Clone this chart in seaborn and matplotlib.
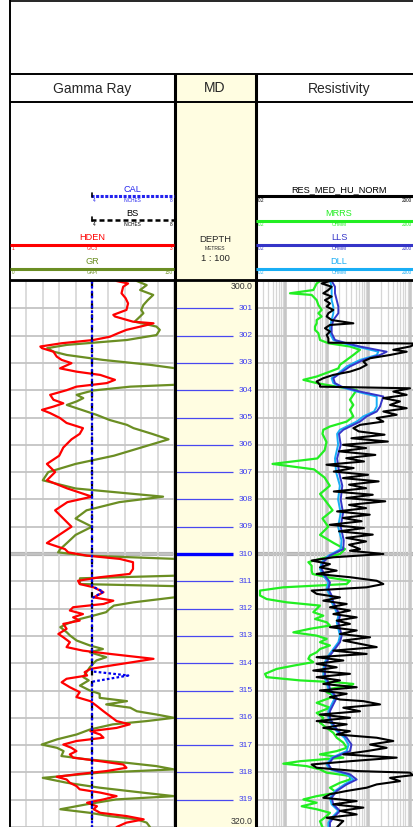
import matplotlib
matplotlib.use("Agg")
import matplotlib.pyplot as plt
from matplotlib.patches import Rectangle
from matplotlib.ticker import MultipleLocator, LogLocator, NullFormatter
import pandas as pd
import seaborn as sns

sns.set_theme(style="white")
plt.rcParams["font.family"] = ["Liberation Sans", "DejaVu Sans"]

# ---------------- log curves: (measured depth m, value) ----------------
gr_log = [
    (300.00, 116), (300.15, 125), (300.33, 119), (300.51, 131), (300.70, 126), (300.88, 122),
    (301.06, 120), (301.18, 122), (301.30, 119), (301.49, 114), (301.67, 134), (301.79, 137),
    (301.98, 134), (302.16, 107), (302.34, 52), (302.46, 34), (302.59, 40), (302.71, 52),
    (302.89, 85), (303.07, 128), (303.20, 152), (303.50, 165), (303.80, 152), (303.87, 110),
    (304.01, 76), (304.17, 61), (304.29, 67), (304.41, 61), (304.54, 52), (304.66, 61),
    (304.78, 70), (304.90, 79), (305.09, 91), (305.27, 107), (305.39, 113),
    (305.60, 130), (305.80, 145), (306.10, 120), (306.40, 95), (306.70, 60), (307.00, 35),
    (307.30, 30), (307.60, 60), (307.90, 140), (308.10, 100), (308.40, 70), (308.70, 60),
    (309.00, 75), (309.30, 60), (309.60, 52),
    (309.82, 46), (309.94, 44), (310.06, 70), (310.18, 152), (310.55, 160), (310.79, 155),
    (310.89, 64), (311.10, 64), (311.18, 155), (311.40, 160), (311.59, 150), (311.77, 113),
    (311.89, 95), (312.01, 91), (312.13, 88), (312.26, 76), (312.38, 64), (312.56, 52),
    (312.68, 46), (312.87, 52), (312.99, 55), (313.17, 61), (313.35, 73), (313.48, 85),
    (313.60, 73), (313.78, 88), (313.90, 79), (314.02, 76), (314.15, 73), (314.33, 70),
    (314.51, 67), (314.63, 72), (314.82, 64), (315.00, 73), (315.12, 82), (315.27, 82),
    (315.39, 107), (315.51, 88), (315.63, 110), (315.76, 116), (315.88, 134), (316.00, 150),
    (316.12, 125), (316.24, 94), (316.43, 73), (316.61, 61), (316.79, 43), (316.98, 29),
    (317.10, 43), (317.22, 49), (317.40, 47), (317.52, 70), (317.65, 107), (317.77, 134),
    (317.89, 150), (318.01, 82), (318.20, 30), (318.38, 52), (318.56, 82), (318.74, 121),
    (318.87, 150), (318.99, 97), (319.17, 70), (319.35, 46), (319.48, 73), (319.60, 91),
    (319.72, 116), (319.84, 125), (320.00, 128),
]

hden_log = [
    (300.00, 2.30), (300.09, 2.44), (300.21, 2.38), (300.45, 2.36), (300.63, 2.41), (300.82, 2.44),
    (301.06, 2.42), (301.24, 2.26), (301.30, 2.28), (301.49, 2.50), (301.55, 2.75), (301.67, 2.59),
    (301.79, 2.42), (301.91, 2.32), (302.04, 2.22), (302.16, 2.02), (302.28, 1.63), (302.40, 1.37),
    (302.46, 1.39), (302.59, 1.53), (302.77, 1.57), (302.89, 1.63), (303.01, 1.75), (303.20, 1.61),
    (303.32, 1.81), (303.44, 2.10), (303.62, 2.28), (303.74, 2.18), (303.87, 1.81), (304.00, 1.69),
    (304.17, 1.49), (304.35, 1.53), (304.48, 1.65), (304.60, 1.53), (304.72, 1.39), (304.84, 1.49),
    (305.02, 1.61), (305.20, 1.69), (305.39, 1.89),
    (305.60, 1.85), (305.80, 1.75), (306.10, 1.65), (306.40, 1.60), (306.70, 1.45), (307.00, 1.55),
    (307.30, 1.45), (307.60, 1.70), (307.90, 2.00), (308.10, 1.70), (308.40, 1.55), (308.70, 1.65),
    (309.00, 1.75), (309.30, 1.60), (309.60, 1.45),
    (309.82, 1.67), (309.94, 1.71), (310.06, 1.94), (310.18, 2.34), (310.30, 2.50), (310.55, 2.50),
    (310.73, 2.46), (310.85, 2.10), (310.98, 1.83), (311.10, 1.85), (311.22, 2.02), (311.40, 2.14),
    (311.59, 2.02), (311.71, 2.26), (311.83, 2.14), (311.95, 1.77), (312.07, 1.73), (312.20, 1.89),
    (312.32, 1.77), (312.44, 1.85), (312.56, 1.65), (312.74, 1.69), (312.93, 1.59), (313.05, 1.65),
    (313.23, 1.73), (313.41, 1.69), (313.54, 1.89), (313.66, 2.22), (313.84, 2.75), (313.96, 2.50),
    (314.09, 2.22), (314.21, 1.98), (314.33, 1.91), (314.45, 1.94), (314.57, 1.69), (314.70, 1.63),
    (314.88, 1.73), (315.06, 1.85), (315.24, 1.81),
    (315.39, 1.98), (315.57, 2.06), (315.76, 2.14), (315.94, 2.22), (316.12, 2.30), (316.24, 2.46),
    (316.37, 2.30), (316.49, 1.98), (316.61, 2.10), (316.73, 2.14), (316.85, 1.81), (316.98, 1.65),
    (317.10, 1.75), (317.22, 1.81), (317.34, 1.73), (317.46, 1.77), (317.59, 2.10), (317.71, 2.38),
    (317.83, 2.42), (317.95, 2.18), (318.07, 1.81), (318.16, 1.57), (318.26, 1.69), (318.38, 1.73),
    (318.50, 1.81), (318.62, 1.85), (318.74, 2.10), (318.87, 2.30), (318.99, 2.14), (319.11, 1.94),
    (319.24, 2.06), (319.35, 2.02), (319.48, 2.10), (319.60, 2.42), (319.72, 2.63), (319.84, 2.42),
    (320.00, 2.30),
]

cal_log = [
    (300.00, 4.0), (311.18, 4.0), (311.38, 4.55), (311.62, 4.0),
    (314.30, 4.0), (314.45, 5.77), (314.68, 4.0), (320.00, 4.0),
]
bs_log = [(300.00, 4.0), (320.00, 4.0)]

mrrs_log = [
    (300.00, 6.97), (300.09, 5.79), (300.21, 5.28), (300.33, 4.81), (300.45, 1.32), (300.51, 4.39),
    (300.70, 5.79), (300.88, 6.36), (301.06, 7.64), (301.18, 6.36), (301.30, 7.64), (301.43, 5.79),
    (301.55, 5.79), (301.67, 5.28), (301.79, 5.28), (301.91, 6.36), (302.16, 6.97), (302.28, 11.1),
    (302.40, 36.8), (302.52, 64.1), (302.71, 44.3), (302.89, 30.6), (303.07, 21.1), (303.20, 19.3),
    (303.32, 12.1), (303.50, 5.79), (303.62, 2.77), (303.74, 5.79), (303.87, 17.6), (303.99, 53.3),
    (304.17, 44.3), (304.35, 36.8), (304.54, 44.3), (304.72, 36.8), (304.96, 44.3), (305.15, 30.6),
    (305.33, 12.1), (305.45, 8.38),
    (305.60, 8.0), (305.90, 10.0), (306.20, 9.0), (306.50, 6.0), (306.70, 0.5), (306.90, 5.0),
    (307.20, 9.0), (307.50, 12.0), (307.80, 7.0), (308.10, 10.0), (308.40, 14.0), (308.70, 8.0),
    (309.00, 11.0), (309.30, 7.0), (309.60, 15.0),
    (309.82, 27.9), (310.00, 21.1), (310.18, 6.97), (310.30, 3.65), (310.43, 4.39), (310.61, 4.39),
    (310.73, 4.6), (310.85, 10.1), (310.98, 36.8), (311.10, 30.6), (311.22, 0.91), (311.34, 0.25),
    (311.52, 0.25), (311.65, 0.36), (311.77, 1.10), (311.89, 6.97), (312.01, 5.79), (312.13, 4.81),
    (312.26, 8.38), (312.38, 5.28), (312.50, 10.1), (312.62, 12.1), (312.74, 4.0), (312.87, 1.59),
    (312.99, 5.79), (313.11, 10.1), (313.23, 6.97), (313.35, 12.1), (313.48, 6.97), (313.60, 5.79),
    (313.72, 4.0), (313.84, 3.65), (313.96, 4.81), (314.09, 1.59), (314.21, 0.63), (314.39, 0.33),
    (314.51, 0.36), (314.63, 2.30), (314.70, 17.6), (314.76, 44.3), (314.82, 36.8), (314.94, 12.1),
    (315.06, 10.1), (315.18, 14.6), (315.27, 12.1),
    (315.45, 5.79), (315.63, 12.1), (315.82, 5.79), (316.00, 8.38), (316.18, 6.97), (316.37, 10.1),
    (316.55, 14.6), (316.73, 17.6), (316.91, 25.4), (317.10, 30.6), (317.22, 17.6), (317.34, 6.97),
    (317.46, 25.4), (317.59, 2.30), (317.68, 0.91), (317.77, 3.33), (317.89, 6.97), (318.01, 10.1),
    (318.13, 36.8), (318.26, 36.8), (318.38, 21.1), (318.56, 12.1), (318.74, 17.6), (318.87, 5.79),
    (318.99, 2.77), (319.11, 5.79), (319.24, 2.52), (319.35, 5.79), (319.48, 12.1), (319.60, 10.1),
    (319.79, 6.97), (320.00, 8.0),
]

lls_log = [
    (300.00, 13.3), (300.21, 16.0), (300.45, 16.0), (300.70, 17.6), (300.94, 19.3), (301.18, 19.3),
    (301.43, 14.6), (301.67, 13.3), (301.91, 13.3), (302.16, 16.0), (302.28, 30.6), (302.40, 64.1),
    (302.59, 282), (302.71, 195), (302.89, 77.1), (303.13, 36.8), (303.38, 21.1), (303.56, 14.6),
    (303.74, 16.0), (303.87, 23.2), (304.05, 64.1), (304.23, 234), (304.41, 213), (304.60, 195),
    (304.78, 162), (304.96, 92.9), (305.15, 64.1), (305.33, 36.8), (305.45, 25.4),
    (305.60, 20.0), (306.00, 22.0), (306.50, 18.0), (307.00, 20.0), (307.50, 24.0), (308.00, 22.0),
    (308.50, 25.0), (309.00, 22.0), (309.50, 26.0),
    (309.82, 25.4), (310.06, 12.1), (310.30, 8.38), (310.55, 7.64), (310.79, 9.2), (311.04, 12.1),
    (311.28, 11.1), (311.52, 13.3), (311.77, 14.6), (312.01, 17.6), (312.26, 21.1), (312.50, 19.3),
    (312.74, 21.1), (312.99, 23.2), (313.23, 21.1), (313.48, 16.0), (313.72, 12.1), (313.96, 10.1),
    (314.21, 9.2), (314.45, 9.2), (314.70, 11.1), (314.94, 12.1), (315.18, 16.0),
    (315.27, 17.6), (315.51, 14.6), (315.76, 12.1), (316.00, 12.1), (316.24, 14.6), (316.49, 19.3),
    (316.73, 30.6), (316.98, 40.0), (317.22, 36.8), (317.46, 14.6), (317.71, 11.1), (317.89, 13.3),
    (318.07, 36.8), (318.26, 53.3), (318.44, 30.6), (318.68, 17.6), (318.93, 13.3), (319.17, 14.6),
    (319.41, 21.1), (319.66, 14.6), (319.84, 12.1), (320.00, 12.1),
]

dll_log = [
    (300.00, 12.1), (300.21, 13.3), (300.45, 13.3), (300.70, 13.3), (300.94, 14.6), (301.18, 14.6),
    (301.43, 13.3), (301.67, 12.1), (301.91, 12.1), (302.16, 14.6), (302.28, 25.4), (302.40, 53.3),
    (302.59, 178), (302.71, 162), (302.89, 64.1), (303.13, 30.6), (303.38, 19.3), (303.56, 13.3),
    (303.74, 14.6), (303.87, 21.1), (304.05, 53.3), (304.23, 162), (304.41, 162), (304.60, 162),
    (304.78, 140), (304.96, 77.1), (305.15, 53.3), (305.33, 30.6), (305.45, 21.1),
    (305.60, 18.0), (306.00, 19.0), (306.50, 16.0), (307.00, 17.0), (307.50, 21.0), (308.00, 19.0),
    (308.50, 22.0), (309.00, 19.0), (309.50, 23.0),
    (309.82, 22.0), (310.06, 11.1), (310.30, 7.64), (310.55, 7.0), (310.79, 8.4), (311.04, 11.1),
    (311.28, 10.1), (311.52, 12.1), (311.77, 13.3), (312.01, 16.0), (312.26, 19.3), (312.50, 17.6),
    (312.74, 19.3), (312.99, 21.1), (313.23, 19.3), (313.48, 14.6), (313.72, 11.1), (313.96, 9.2),
    (314.21, 8.4), (314.45, 8.4), (314.70, 10.1), (314.94, 11.1), (315.18, 14.6),
    (315.27, 16.0), (315.51, 13.3), (315.76, 11.1), (316.00, 11.1), (316.24, 13.3), (316.49, 17.6),
    (316.73, 27.0), (316.98, 34.0), (317.22, 30.6), (317.46, 13.3), (317.71, 10.1), (317.89, 12.1),
    (318.07, 30.6), (318.26, 44.3), (318.44, 27.0), (318.68, 16.0), (318.93, 12.1), (319.17, 13.3),
    (319.41, 19.3), (319.66, 13.3), (319.84, 11.1), (320.00, 11.1),
]

res_norm_log = [
    (300.00, 12.1), (300.09, 7.64), (300.21, 13.3), (300.33, 11.1), (300.45, 8.38), (300.57, 13.3),
    (300.70, 9.2), (300.82, 12.1), (300.94, 10.1), (301.06, 14.6), (301.18, 11.1), (301.30, 10.1),
    (301.43, 13.3), (301.55, 44.3), (301.61, 12.1), (301.73, 9.2), (301.85, 12.1), (301.98, 10.1),
    (302.10, 11.1), (302.26, 11.1), (302.29, 1490), (302.40, 1028), (302.52, 407), (302.59, 855),
    (302.71, 339), (302.83, 112), (302.95, 77.1), (303.07, 92.9), (303.20, 64.1), (303.32, 36.8),
    (303.44, 14.6), (303.56, 8.38), (303.68, 5.79), (303.80, 6.97), (303.87, 6.97), (303.93, 1028),
    (304.05, 407), (304.17, 855), (304.29, 234), (304.41, 590), (304.54, 339), (304.66, 855),
    (304.78, 234), (304.90, 491), (305.02, 162), (305.15, 234), (305.27, 64.1), (305.39, 44.3),
    (305.51, 60), (305.63, 250), (305.76, 40), (305.88, 300), (306.00, 25), (306.12, 90),
    (306.24, 20), (306.37, 150), (306.49, 30), (306.61, 80), (306.73, 10), (306.85, 45),
    (306.98, 15), (307.10, 100), (307.22, 25), (307.34, 180), (307.46, 35), (307.59, 90),
    (307.71, 15), (307.83, 130), (307.95, 30), (308.07, 260), (308.20, 35), (308.32, 90),
    (308.44, 18), (308.56, 110), (308.68, 25), (308.80, 70), (308.93, 12), (309.05, 80),
    (309.17, 20), (309.29, 130), (309.41, 30), (309.54, 90), (309.66, 35),
    (309.82, 64.1), (309.88, 36.8), (310.00, 234), (310.12, 14.6), (310.24, 4.39), (310.37, 12.1),
    (310.49, 6.97), (310.61, 17.6), (310.73, 5.79), (310.85, 36.8), (310.98, 162), (311.10, 234),
    (311.22, 92.9), (311.34, 4.39), (311.46, 5.79), (311.59, 21.1), (311.71, 8.38), (311.83, 30.6),
    (311.95, 12.1), (312.07, 36.8), (312.20, 14.6), (312.32, 53.3), (312.44, 17.6), (312.56, 36.8),
    (312.68, 12.1), (312.80, 53.3), (312.93, 21.1), (313.05, 112), (313.17, 25.4), (313.29, 64.1),
    (313.41, 162), (313.54, 14.6), (313.66, 92.9), (313.78, 5.79), (313.90, 25.4), (314.02, 5.79),
    (314.15, 17.6), (314.27, 4.8), (314.39, 36.8), (314.51, 5.79), (314.63, 21.1), (314.76, 8.38),
    (314.88, 53.3), (315.00, 6.97), (315.12, 30.6), (315.24, 12.1),
    (315.33, 21.1), (315.39, 77.1), (315.51, 195), (315.63, 25.4), (315.76, 64.1), (315.88, 6.97),
    (316.00, 36.8), (316.12, 5.79), (316.24, 30.6), (316.37, 8.38), (316.49, 36.8), (316.61, 17.6),
    (316.73, 162), (316.85, 407), (316.98, 112), (317.10, 282), (317.22, 92.9), (317.34, 25.4),
    (317.46, 491), (317.59, 36.8), (317.71, 4.39), (317.83, 5.79), (317.95, 53.3), (318.01, 1028),
    (318.10, 1200), (318.20, 339), (318.32, 590), (318.44, 162), (318.56, 92.9), (318.68, 30.6),
    (318.80, 12.1), (318.93, 8.38), (319.05, 53.3), (319.17, 14.6), (319.29, 77.1), (319.41, 21.1),
    (319.54, 53.3), (319.66, 10.1), (319.78, 25.4), (320.00, 18.0),
]

depth_top, depth_base = 300.0, 320.0
depth_marks = list(range(301, 320))

# ---------------- layout (pixel geometry of the log sheet) ----------------
W, H = 413, 827
DATA_TOP = 281
GAM_X0, GAM_X1 = 10, 174
MD_X0, MD_X1 = 174, 256
RES_X0, RES_X1 = 256, 422
YELLOW = "#FFFDE1"

fig = plt.figure(figsize=(W / 100, H / 100), dpi=100)
fig.patch.set_facecolor("white")


def rect(x0, x1):
    return [x0 / W, 0.0, (x1 - x0) / W, (H - DATA_TOP) / H]


def clean(ax):
    for s in ax.spines.values():
        s.set_visible(False)
    ax.set_xlabel("")
    ax.set_ylabel("")
    ax.tick_params(which="both", length=0, labelbottom=False, labelleft=False,
                   labeltop=False, labelright=False)


def curve(ax, log, color, lw, **kw):
    df = pd.DataFrame(log, columns=["depth", "value"])
    sns.lineplot(data=df, x="value", y="depth", orient="y", sort=False, estimator=None,
                 ax=ax, color=color, linewidth=lw, legend=False, **kw)


# ---- Gamma Ray track ----
ax_gr = fig.add_axes(rect(GAM_X0, GAM_X1))
ax_gr.set_facecolor("white")
curve(ax_gr, gr_log, "#6B8E23", 1.6)
ax_gr.set_xlim(0, 150)
ax_gr.set_ylim(depth_base, depth_top)
ax_gr.xaxis.set_major_locator(MultipleLocator(15))
ax_gr.yaxis.set_major_locator(MultipleLocator(1))
ax_gr.set_axisbelow(True)
ax_gr.grid(True, axis="x", color="#d9d9d9", lw=1.3)
ax_gr.grid(True, axis="y", color="#c4c4c4", lw=1.3)
ax_gr.axhline(310, color="#b5b5b5", lw=3, zorder=0.5)
clean(ax_gr)

ax_hd = fig.add_axes(rect(GAM_X0, GAM_X1), sharey=ax_gr)
ax_hd.patch.set_alpha(0)
curve(ax_hd, hden_log, "#FF0000", 1.6)
ax_hd.set_xlim(1, 3)
ax_hd.set_ylim(depth_base, depth_top)
clean(ax_hd)

ax_cal = fig.add_axes(rect(GAM_X0, GAM_X1), sharey=ax_gr)
ax_cal.patch.set_alpha(0)
curve(ax_cal, bs_log, "black", 1.6, linestyle=(0, (2.5, 2.5)))
curve(ax_cal, cal_log, "#0000EE", 1.6, linestyle=(0, (1.2, 1.0)))
ax_cal.set_xlim(0, 8)
ax_cal.set_ylim(depth_base, depth_top)
clean(ax_cal)

# ---- MD track ----
ax_md = fig.add_axes(rect(MD_X0, MD_X1), sharey=ax_gr)
ax_md.set_facecolor(YELLOW)
ax_md.set_xlim(0, 1)
ax_md.set_ylim(depth_base, depth_top)
for d in depth_marks:
    major = d == 310
    ax_md.plot([0, 0.72], [d, d], color="#0000FF" if major else "#4848F0",
               lw=2.4 if major else 0.9, solid_capstyle="butt")
    ax_md.text(0.955, d, str(d), ha="right", va="center", fontsize=6,
               color="#3c3cf0")
ax_md.text(0.955, depth_top + 0.05, f"{depth_top:.1f}", ha="right", va="top",
           fontsize=6.3, color="#333333")
ax_md.text(0.955, depth_base - 0.05, f"{depth_base:.1f}", ha="right", va="bottom",
           fontsize=6.3, color="#333333")
clean(ax_md)

# ---- Resistivity track ----
ax_res = fig.add_axes(rect(RES_X0, RES_X1), sharey=ax_gr)
ax_res.set_facecolor("white")
curve(ax_res, mrrs_log, "#22EE22", 1.6)
curve(ax_res, dll_log, "#19AEF5", 1.4)
curve(ax_res, lls_log, "#3535C8", 1.4)
curve(ax_res, res_norm_log, "black", 1.5)
ax_res.set_xscale("log")
ax_res.set_xlim(0.2, 2000)
ax_res.set_ylim(depth_base, depth_top)
ax_res.xaxis.set_major_locator(LogLocator(base=10, numticks=10))
ax_res.xaxis.set_minor_locator(LogLocator(base=10, subs=range(2, 10), numticks=20))
ax_res.xaxis.set_minor_formatter(NullFormatter())
ax_res.yaxis.set_major_locator(MultipleLocator(1))
ax_res.set_axisbelow(True)
ax_res.grid(True, axis="x", which="major", color="#c6c6c6", lw=2.6)
ax_res.grid(True, axis="x", which="minor", color="#d6d6d6", lw=0.9)
ax_res.grid(True, axis="y", which="major", color="#c4c4c4", lw=1.3)
ax_res.axhline(310, color="#b5b5b5", lw=3, zorder=0.5)
clean(ax_res)

# ---------------- header panel (pixel coordinates) ----------------
ov = fig.add_axes([0, 0, 1, 1], zorder=20)
ov.set_xlim(0, W)
ov.set_ylim(H, 0)
ov.axis("off")
ov.patch.set_alpha(0)

ov.add_patch(Rectangle((MD_X0, 74), MD_X1 - MD_X0, DATA_TOP - 74, color=YELLOW, lw=0, zorder=0))

K = dict(color="black", solid_capstyle="butt")
ov.plot([GAM_X0, GAM_X0], [0, H], lw=1.4, **K)
ov.plot([GAM_X0, W], [0.6, 0.6], lw=1.2, **K)
ov.plot([GAM_X0, W], [74, 74], lw=1.4, **K)
ov.plot([GAM_X0, W], [102, 102], lw=1.4, **K)
ov.plot([GAM_X0, W], [279.5, 279.5], lw=2.0, **K)
ov.plot([MD_X0 + 0.5, MD_X0 + 0.5], [74, H], lw=2.2, **K)
ov.plot([MD_X1, MD_X1], [74, H], lw=2.2, **K)

ov.text((GAM_X0 + GAM_X1) / 2, 88.5, "Gamma Ray", ha="center", va="center", fontsize=10)
ov.text((MD_X0 + MD_X1) / 2, 88.5, "MD", ha="center", va="center", fontsize=10)
ov.text((RES_X0 + RES_X1) / 2, 88.5, "Resistivity", ha="center", va="center", fontsize=10)


def header(x0, x1, y, name, color, lo, unit, hi, ls="-", lw=2.0, tick=False, hi_x=None):
    cx = (x0 + x1) / 2
    ov.text(cx, y - 6.5, name, ha="center", va="center", fontsize=6.6, color=color)
    ov.plot([x0, x1], [y, y], color=color, lw=lw, linestyle=ls, solid_capstyle="butt")
    if tick:
        ov.plot([x0 + 0.5, x0 + 0.5], [y - 3, y + 1], color="black", lw=1.2)
    ov.text(x0 + 1.5, y + 4.2, lo, ha="left", va="center", fontsize=3.4, color=color)
    if unit:
        ov.text(cx, y + 4.2, unit, ha="center", va="center", fontsize=3.4, color=color)
    ov.text(hi_x if hi_x is not None else x1 - 1.5, y + 4.2, hi, ha="right", va="center",
            fontsize=3.4, color=color)


header(91, GAM_X1, 196, "CAL", "#2222EE", "4", "INCHES", "8", ls=(0, (1.0, 0.5)), lw=2.2, tick=True)
header(91, GAM_X1, 220, "BS", "black", "4", "INCHES", "8", ls=(0, (2.0, 1.2)), lw=1.8, tick=True)
header(GAM_X0, GAM_X1, 244.5, "HDEN", "#FF0000", "1", "G/C3", "3", lw=2.2)
header(GAM_X0, GAM_X1, 268.5, "GR", "#6B8E23", "0", "GAPI", "150", lw=2.2)

RES_HI_X = W - 1.5
header(RES_X0, RES_X1, 196, "RES_MED_HU_NORM", "black", "0.2", "", "2000", lw=2.2, hi_x=RES_HI_X)
header(RES_X0, RES_X1, 220.5, "MRRS", "#22EE22", "0.2", "OHMM", "2000", lw=2.2, hi_x=RES_HI_X)
header(RES_X0, RES_X1, 244.5, "LLS", "#3535C8", "0.2", "OHMM", "2000", lw=2.2, hi_x=RES_HI_X)
header(RES_X0, RES_X1, 268.5, "DLL", "#19AEF5", "0.2", "OHMM", "2000", lw=2.2, hi_x=RES_HI_X)

mdx = (MD_X0 + MD_X1) / 2
ov.text(mdx, 239.5, "DEPTH", ha="center", va="center", fontsize=6.8)
ov.text(mdx, 248.5, "METRES", ha="center", va="center", fontsize=3.6)
ov.text(mdx, 258.5, "1 : 100", ha="center", va="center", fontsize=6.8)

fig.savefig("out.png", dpi=100)
